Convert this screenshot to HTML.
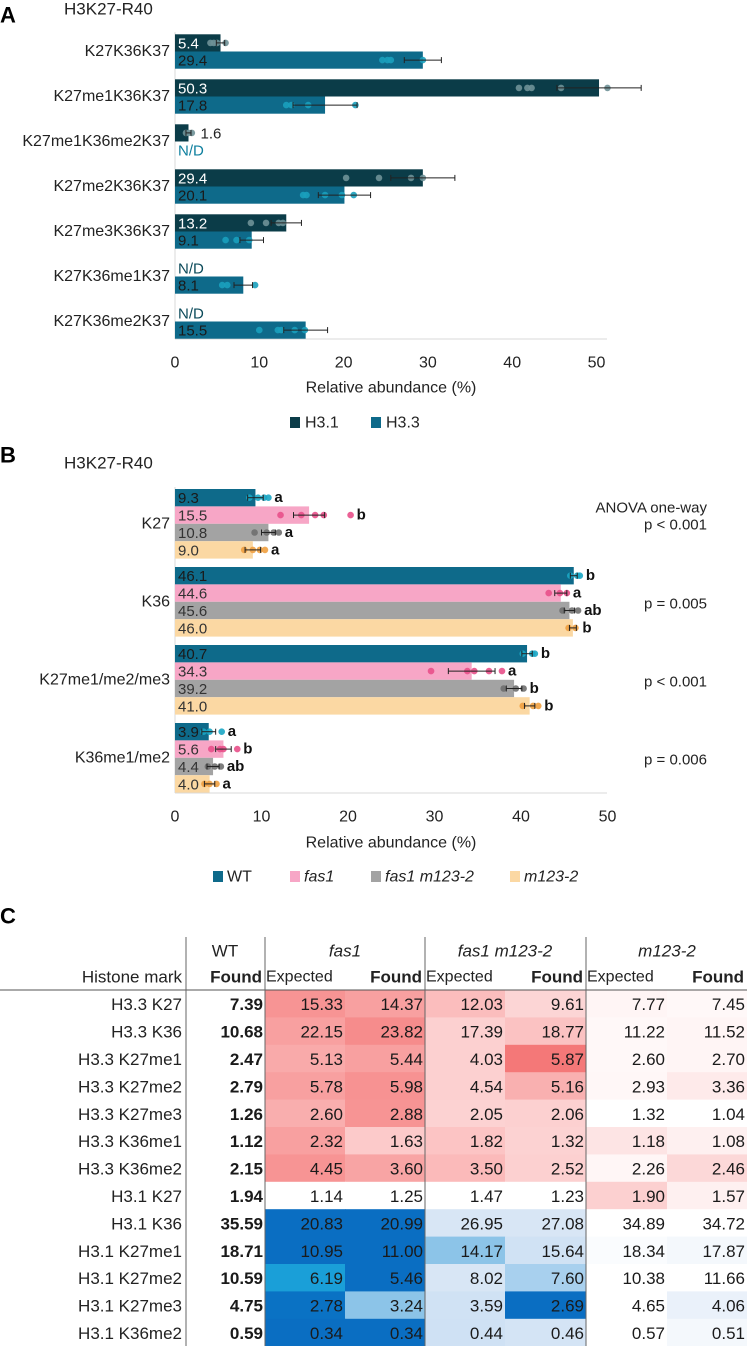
<!DOCTYPE html>
<html><head><meta charset="utf-8">
<style>
html,body{margin:0;padding:0;background:#fff;}
svg{display:block;font-family:"Liberation Sans",sans-serif;}
</style></head>
<body>
<svg id="fig" width="747" height="1346" viewBox="0 0 747 1346" xmlns="http://www.w3.org/2000/svg"></svg>
<script>
// ---------- Panel A data ----------
const aCategories = ["K27K36K37","K27me1K36K37","K27me1K36me2K37","K27me2K36K37","K27me3K36K37","K27K36me1K37","K27K36me2K37"];
const aH31 = [5.4, 50.3, 1.6, 29.4, 13.2, null, null];
const aH31Err = [0.5, 5.0, 0.3, 3.8, 1.8, 0, 0];
const aH31Pts = [[4.2,4.6,5.0,6.0],[40.8,41.8,42.3,45.8,51.3],[1.3,1.6,2.0],[20.3,24.2,28.0,29.4],[9.0,10.8,12.3,12.8],[],[]];
const aH33 = [29.4, 17.8, null, 20.1, 9.1, 8.1, 15.5];
const aH33Err = [2.2, 3.8, 0, 3.1, 1.4, 1.1, 2.6];
const aH33Pts = [[24.6,25.2,25.6,29.4],[13.2,13.8,15.8,21.4],[],[15.2,15.6,17.8,19.8,21.2],[6.0,7.3,8.8],[5.6,6.2,9.5],[10.0,12.2,12.6,14.2,15.4]];
const aTicks = [0,10,20,30,40,50];

// ---------- Panel B data ----------
const bCategories = ["K27","K36","K27me1/me2/me3","K36me1/me2"];
const bWT = [9.3, 46.1, 40.7, 3.9];
const bFas1 = [15.5, 44.6, 34.3, 5.6];
const bFasM = [10.8, 45.6, 39.2, 4.4];
const bM123 = [9.0, 46.0, 41.0, 4.0];
const bWTErr = [0.9, 0.4, 0.6, 0.8];
const bFas1Err = [1.8, 0.7, 2.7, 0.9];
const bFasMErr = [0.8, 0.6, 0.9, 0.7];
const bM123Err = [0.9, 0.4, 0.6, 0.6];
const bWTPts = [[8.6,9.6,10.3,10.8],[45.7,46.5,46.8],[40.2,41.3,41.6],[3.3,4.0,5.4]];
const bFas1Pts = [[12.2,14.6,16.2,17.2,20.3],[43.2,44.5,45.3],[29.6,33.8,34.6,36.3,37.8],[4.2,5.2,5.6,7.2]];
const bFasMPts = [[9.2,10.6,11.4,12.0],[44.8,45.9,46.6],[38.0,39.4,40.3],[3.8,4.6,5.3]];
const bM123Pts = [[8.0,9.0,9.8,10.4],[45.5,46.3],[40.2,41.4,42.0],[3.4,4.0,4.8]];
const bWTLet = ["a","b","b","a"];
const bFas1Let = ["b","a","a","b"];
const bFasMLet = ["a","ab","b","ab"];
const bM123Let = ["a","b","b","a"];
const bPvals = ["p < 0.001","p = 0.005","p < 0.001","p = 0.006"];
const bTicks = [0,10,20,30,40,50];

// ---------- Panel C data ----------
const cRows = ["H3.3 K27","H3.3 K36","H3.3 K27me1","H3.3 K27me2","H3.3 K27me3","H3.3 K36me1","H3.3 K36me2","H3.1 K27","H3.1 K36","H3.1 K27me1","H3.1 K27me2","H3.1 K27me3","H3.1 K36me2"];
const cWT = ["7.39","10.68","2.47","2.79","1.26","1.12","2.15","1.94","35.59","18.71","10.59","4.75","0.59"];
const cFas1Exp = ["15.33","22.15","5.13","5.78","2.60","2.32","4.45","1.14","20.83","10.95","6.19","2.78","0.34"];
const cFas1Found = ["14.37","23.82","5.44","5.98","2.88","1.63","3.60","1.25","20.99","11.00","5.46","3.24","0.34"];
const cFasMExp = ["12.03","17.39","4.03","4.54","2.05","1.82","3.50","1.47","26.95","14.17","8.02","3.59","0.44"];
const cFasMFound = ["9.61","18.77","5.87","5.16","2.06","1.32","2.52","1.23","27.08","15.64","7.60","2.69","0.46"];
const cM123Exp = ["7.77","11.22","2.60","2.93","1.32","1.18","2.26","1.90","34.89","18.34","10.38","4.65","0.57"];
const cM123Found = ["7.45","11.52","2.70","3.36","1.04","1.08","2.46","1.57","34.72","17.87","11.66","4.06","0.51"];
const cFills = [
 ["#f79494","#f8a0a0","#fbbdbd","#fcd5d5","#fff5f5","#fff8f8"],
 ["#f8a0a0","#f68c8c","#fcd0d0","#fbc2c2","#fff8f8","#fff5f5"],
 ["#f9aaaa","#f8a0a0","#fcd0d0","#f47878","#fff8f8","#fff5f5"],
 ["#f8a0a0","#f79292","#fcd0d0","#f9b0b0","#fff7f7","#feeaea"],
 ["#f9aeae","#f79494","#fcd2d2","#fcd0d0","#ffffff","#ffffff"],
 ["#f8a0a0","#fccaca","#fcc4c4","#fcd2d2","#fde4e4","#fef0f0"],
 ["#f79494","#f8a4a4","#fbbaba","#fcd0d0","#fff6f6","#fcd8d8"],
 ["#ffffff","#ffffff","#ffffff","#ffffff","#fcd0d0","#fef0f0"],
 ["#0a6ec2","#0a6ec2","#d8e6f5","#d8e6f5","#ffffff","#ffffff"],
 ["#0a6ec2","#0a6ec2","#8cc4e8","#d0e2f4","#fafcfe","#f4f8fc"],
 ["#1a9fd8","#0a6ec2","#d8e6f5","#a8d0ee","#ffffff","#ffffff"],
 ["#0a72c4","#8cc4e8","#d0e2f4","#0a6ec2","#ffffff","#eaf1fa"],
 ["#0a6ec2","#0a6ec2","#cfe1f4","#d4e4f5","#ffffff","#f4f8fc"]
];

const NS = "http://www.w3.org/2000/svg";
const svg = document.getElementById("fig");
function mk(tag, attrs, parent, text){
  const e = document.createElementNS(NS, tag);
  for (const k in attrs) e.setAttribute(k, attrs[k]);
  if (text !== undefined) e.textContent = text;
  (parent||svg).appendChild(e);
  return e;
}
function grp(name){ const g = mk("g",{});   return g; }
function txt(x,y,s,opts,parent,name){
  const t = mk("text",Object.assign({x:x,y:y,"font-size":15,fill:"#222","dominant-baseline":"central"},opts||{}),parent,s);
  
  
  return t;
}

// ========== Panel A ==========
const ax0 = 175, aScale = 8.43;
const aX = v => ax0 + v*aScale;
const aTop = 34.3, aPitch = 45, aBarH = 17.2;
const gA = grp("panel-a");
txt(0,15,"A",{"font-size":22,"font-weight":"bold",fill:"#000"},gA,"panel-a-letter");
txt(64,9,"H3K27-R40",{"font-size":17,fill:"#222"},gA,"panel-a-title");
mk("line",{x1:ax0,y1:aTop-2,x2:ax0,y2:339,stroke:"#d9d9d9"},gA);
mk("line",{x1:ax0,y1:339,x2:607,y2:339,stroke:"#d9d9d9"},gA);
aTicks.forEach(t=>txt(aX(t),363,String(t),{"text-anchor":"middle","font-size":16},gA,"x-tick-a"));
txt(391,388,"Relative abundance (%)",{"text-anchor":"middle","font-size":16},gA,"x-axis-title-a");
function drawBar(g, val, err, pts, y, h, fill, dotFill, textFill, xf, name){
  if (val === null) return;
  const r = mk("rect",{x:xf(0),y:y,width:xf(val)-xf(0),height:h,fill:fill},g);
  
  
  const cy = y+h/2;
  pts.forEach(p=>{ const c = mk("circle",{cx:xf(p),cy:cy,r:3.3,fill:dotFill,opacity:0.9},g);   });
  if (err>0){
    mk("line",{x1:xf(val-err),y1:cy,x2:xf(val+err),y2:cy,stroke:"#222","stroke-width":1},g);
    mk("line",{x1:xf(val-err),y1:cy-3,x2:xf(val-err),y2:cy+3,stroke:"#222"},g);
    mk("line",{x1:xf(val+err),y1:cy-3,x2:xf(val+err),y2:cy+3,stroke:"#222"},g);
  }
}
aCategories.forEach((c,i)=>{
  const y0 = aTop + i*aPitch;
  txt(170, y0+aBarH, c, {"text-anchor":"end","font-size":16}, gA, "category-label");
  if (aH31[i] !== null){
    drawBar(gA,aH31[i],aH31Err[i],aH31Pts[i],y0,aBarH,"#0b3c48","#6e9197","#fff",aX,"bar-h31");
    if (aX(aH31[i]) - ax0 > 30) txt(178,y0+aBarH/2+1,aH31[i].toFixed(1),{fill:"#fff"},gA,"value-h31");
    else txt(aX(aH31[i])+12,y0+aBarH/2+1,aH31[i].toFixed(1),{fill:"#222"},gA,"value-h31");
  } else txt(178,y0+aBarH/2+1,"N/D",{fill:"#0b4a5a"},gA,"nd-h31");
  const y1 = y0+aBarH;
  if (aH33[i] !== null){
    drawBar(gA,aH33[i],aH33Err[i],aH33Pts[i],y1,aBarH,"#0e6a8a","#1aa0bd","#222",aX,"bar-h33");
    txt(178,y1+aBarH/2+1,aH33[i].toFixed(1),{fill:"#1a1a1a"},gA,"value-h33");
  } else txt(178,y1+aBarH/2+1,"N/D",{fill:"#0e7f9e"},gA,"nd-h33");
});
const lgA = grp("legend-a");
mk("rect",{x:290,y:417,width:10,height:11,fill:"#0b3c48"},lgA);
txt(305,423,"H3.1",{"font-size":16},lgA,"legend-entry-h31");
mk("rect",{x:371,y:417,width:10,height:11,fill:"#0e6a8a"},lgA);
txt(386,423,"H3.3",{"font-size":16},lgA,"legend-entry-h33");

// ========== Panel B ==========
const bx0 = 175, bScale = 8.65;
const bX = v => bx0 + v*bScale;
const bTop = 489, bPitch = 78, bBarH = 17.4;
const gB = grp("panel-b");
txt(0,455,"B",{"font-size":22,"font-weight":"bold",fill:"#000"},gB,"panel-b-letter");
txt(64,463,"H3K27-R40",{"font-size":17,fill:"#222"},gB,"panel-b-title");
mk("line",{x1:bx0,y1:bTop-2,x2:bx0,y2:793,stroke:"#d9d9d9"},gB);
mk("line",{x1:bx0,y1:793,x2:607,y2:793,stroke:"#d9d9d9"},gB);
bTicks.forEach(t=>txt(bX(t),817,String(t),{"text-anchor":"middle","font-size":16},gB,"x-tick-b"));
txt(391,843,"Relative abundance (%)",{"text-anchor":"middle","font-size":16},gB,"x-axis-title-b");
const bSeries = [
 {v:bWT,e:bWTErr,p:bWTPts,l:bWTLet,fill:"#0e6a8a",dot:"#1aa6c4",tc:"#1a1a1a",n:"bar-wt"},
 {v:bFas1,e:bFas1Err,p:bFas1Pts,l:bFas1Let,fill:"#f7a6c6",dot:"#e8508a",tc:"#333",n:"bar-fas1"},
 {v:bFasM,e:bFasMErr,p:bFasMPts,l:bFasMLet,fill:"#a3a3a3",dot:"#6f6f6f",tc:"#333",n:"bar-fas1-m123-2"},
 {v:bM123,e:bM123Err,p:bM123Pts,l:bM123Let,fill:"#fbd8a3",dot:"#f0a040",tc:"#333",n:"bar-m123-2"}
];
bCategories.forEach((c,i)=>{
  const y0 = bTop + i*bPitch;
  txt(170, y0+2*bBarH, c, {"text-anchor":"end","font-size":16}, gB, "category-label");
  bSeries.forEach((s,k)=>{
    const y = y0 + k*bBarH;
    drawBar(gB,s.v[i],s.e[i],s.p[i],y,bBarH,s.fill,s.dot,s.tc,bX,s.n);
    txt(178,y+bBarH/2+1,s.v[i].toFixed(1),{fill:s.tc},gB,"value-label");
    const endV = Math.max(s.v[i]+s.e[i], ...s.p[i]);
    txt(bX(endV)+6,y+bBarH/2,s.l[i],{"font-weight":"bold",fill:"#111"},gB,"significance-letter");
  });
  if (i===0) txt(707,y0+19,"ANOVA one-way",{"text-anchor":"end"},gB,"anova-label");
  txt(707,y0+(i===0?36:37),bPvals[i],{"text-anchor":"end"},gB,"p-value");
});
const lgB = grp("legend-b");
const lgItems = [["WT",213,"#0e6a8a",false],["fas1",290,"#f7a6c6",true],["fas1 m123-2",371,"#a3a3a3",true],["m123-2",510,"#fbd8a3",true]];
lgItems.forEach(it=>{
  mk("rect",{x:it[1],y:871,width:10,height:11,fill:it[2]},lgB);
  txt(it[1]+14,877,it[0],Object.assign({"font-size":16},it[3]?{"font-style":"italic"}:{}),lgB,"legend-entry");
});

// ========== Panel C ==========
const gC = grp("panel-c-table");
txt(0,916,"C",{"font-size":22,"font-weight":"bold",fill:"#000"},gC,"panel-c-letter");
const colEdges = [186,265,345,425,505,586,667,747];
const rowTop = 990, rowH = 27.4;
const cCols = [cWT,cFas1Exp,cFas1Found,cFasMExp,cFasMFound,cM123Exp,cM123Found];
cRows.forEach((r,i)=>{
  const y = rowTop + i*rowH;
  for (let k=1;k<7;k++){
    const rc = mk("rect",{x:colEdges[k],y:y,width:colEdges[k+1]-colEdges[k]+0.5,height:rowH+0.5,fill:cFills[i][k-1]},gC);
    
    
  }
});
cRows.forEach((r,i)=>{
  const cy = rowTop + i*rowH + rowH/2 + 1;
  txt(182,cy,r,{"text-anchor":"end","font-size":17},gC,"row-label");
  cCols.forEach((col,k)=>{
    txt(colEdges[k+1]-2,cy,col[i],{"text-anchor":"end","font-size":17,"font-weight":k===0?"bold":"normal",fill:"#1a1a1a"},gC,"cell-value");
  });
});
txt(225,951,"WT",{"text-anchor":"middle","font-size":17},gC,"header-wt");
txt(345,951,"fas1",{"text-anchor":"middle","font-size":17,"font-style":"italic"},gC,"header-fas1");
txt(505,951,"fas1 m123-2",{"text-anchor":"middle","font-size":17,"font-style":"italic"},gC,"header-fas1-m123-2");
txt(667,951,"m123-2",{"text-anchor":"middle","font-size":17,"font-style":"italic"},gC,"header-m123-2");
txt(182,977,"Histone mark",{"text-anchor":"end","font-size":17},gC,"header-histone-mark");
const sub = ["Found","Expected","Found","Expected","Found","Expected","Found"];
sub.forEach((s,k)=>{
  const bold = s==="Found";
  txt(bold? colEdges[k+1]-3 : colEdges[k]+1, 977, s, {"text-anchor":bold?"end":"start","font-size":bold?17:16,"font-weight":bold?"bold":"normal"}, gC, "header-sub");
});
mk("line",{x1:0,y1:990,x2:747,y2:990,stroke:"#555","stroke-width":1},gC);
[186,265,425,586].forEach(x=>mk("line",{x1:x,y1:937,x2:x,y2:1346,stroke:"#666","stroke-width":1},gC));
</script>
</body></html>
